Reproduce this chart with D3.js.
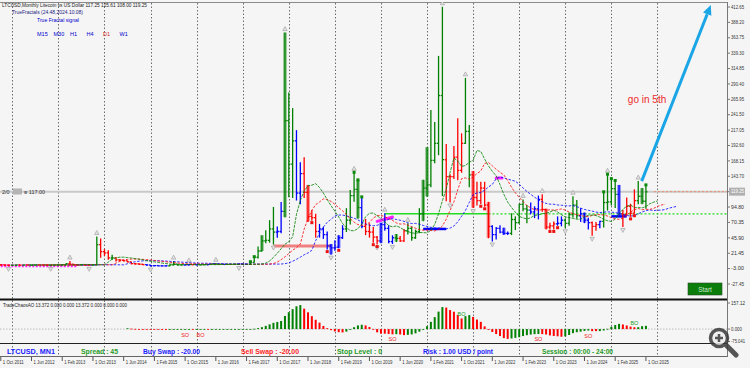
<!DOCTYPE html>
<html lang="en">
<head>
<meta charset="utf-8">
<title>LTCUSD, Monthly</title>
<script src="https://cdn.jsdelivr.net/npm/d3@7"></script>
<style>
  body { margin: 0; background: #f5f5f5; }
  svg { display: block; font-family: "Liberation Sans", Arial, sans-serif; }
</style>
</head>
<body>
<script>

// Monthly LTCUSD bars, Oct 2011 .. Oct 2025 (one value per month)
var open = [
  3.2, 3.0, 2.6,
  2.5, 2.6, 2.7, 2.6, 2.8, 2.7, 2.8, 2.9, 2.8, 2.7, 2.6, 2.7,
  2.8, 3.0, 3.2, 4.8, 4.0, 3.1, 2.8, 3.0, 2.6, 2.4, 2.9, 35,
  24, 22, 14, 14, 11, 10.5, 9.5, 7.8, 5, 4.6, 3.9, 3.4,
  2.7, 1.6, 1.8, 1.5, 1.4, 1.5, 2.8, 4.2, 2.9, 2.9, 3.1, 3.3,
  3.5, 3.1, 3.1, 3.2, 3.7, 4.6, 4.2, 4.0, 3.7, 3.8, 3.8, 3.9,
  4.3, 4.0, 3.8, 7.0, 15, 25, 41, 42, 60, 55, 56, 88,
  232, 163, 200, 117, 148, 118, 80, 78, 56, 60, 51, 33,
  30, 31, 46, 60, 74, 113, 123, 94, 64, 56, 55, 47,
  41, 67, 61, 40, 46, 45, 41, 57, 61, 46, 56, 84,
  125, 130, 169, 196, 272, 170, 143, 143, 174, 153, 196, 215,
  146, 110, 105, 125, 98, 64, 51, 61, 55, 53, 53, 75,
  70, 99, 92, 90, 87, 92, 107, 91, 63, 65, 68, 69,
  74, 69, 83, 98, 81, 84, 74, 70, 64, 67, 72, 102,
  103, 124, 115, 84, 83, 96, 85, 105, 112, 104
];
var high = [
  3.8, 3.2, 2.9,
  2.8, 2.9, 2.9, 3.0, 3.0, 3.0, 3.1, 3.1, 3.0, 2.9, 2.9, 2.9,
  3.2, 3.4, 5.5, 9.0, 4.2, 3.3, 3.3, 3.1, 2.8, 3.0, 48, 45,
  28, 26, 19, 15, 12, 11, 9.6, 8, 6, 5, 4.4, 3.8,
  2.8, 2.1, 2.0, 1.6, 1.8, 3.0, 8.9, 4.3, 3.1, 3.2, 4.5, 3.8,
  3.8, 3.6, 3.4, 3.9, 4.8, 5.5, 4.4, 4.0, 3.9, 3.9, 4.0, 4.6,
  4.6, 4.1, 8.0, 16, 32, 50, 58, 74, 95, 64, 103, 372,
  277, 252, 217, 166, 174, 130, 90, 84, 68, 63, 56, 36,
  42, 50, 66, 93, 122, 150, 138, 111, 76, 69, 63, 49,
  70, 85, 66, 50, 52, 49, 60, 69, 64, 59, 93, 138,
  190, 249, 230, 335, 413, 195, 147, 192, 236, 212, 300, 225,
  152, 135, 135, 135, 103, 66, 63, 66, 62, 56, 85, 80,
  100, 107, 98, 102, 96, 113, 115, 92, 70, 72, 80, 80,
  77, 86, 112, 106, 93, 86, 78, 72, 71, 73, 119, 147,
  140, 137, 130, 90, 110, 100, 123, 136, 125, 130
];
var low = [
  2.4, 2.3, 2.2,
  2.3, 2.4, 2.5, 2.4, 2.6, 2.5, 2.6, 2.6, 2.6, 2.5, 2.4, 2.5,
  2.6, 2.8, 3.0, 2.5, 2.8, 2.5, 2.6, 2.4, 2.2, 2.3, 2.8, 15,
  18, 12, 12, 9, 9, 9, 7.5, 4.5, 3.9, 3.6, 3.2, 2.5,
  1.1, 1.5, 1.4, 1.3, 1.3, 1.4, 2.7, 2.6, 2.6, 2.8, 2.8, 3.2,
  2.9, 2.9, 3.0, 3.1, 3.6, 3.7, 3.6, 3.6, 3.6, 3.7, 3.7, 3.5,
  3.6, 3.7, 3.6, 7.0, 14, 25, 38, 39, 36, 47, 54, 79,
  111, 110, 106, 100, 110, 72, 74, 47, 47, 45, 28, 20,
  26, 30, 45, 56, 68, 104, 77, 62, 51, 47, 39, 36,
  38, 58, 38, 37, 40, 40, 40, 52, 42, 45, 54, 73,
  112, 127, 165, 178, 113, 105, 103, 140, 138, 150, 196, 127,
  94, 98, 100, 96, 46, 41, 44, 54, 51, 51, 51, 59,
  69, 89, 70, 84, 78, 76, 88, 60, 60, 60, 66, 65,
  62, 66, 79, 77, 72, 70, 60, 50, 58, 62, 63, 90,
  98, 94, 82, 64, 82, 80, 85, 100, 100, 93
];
var close = [
  3.0, 2.6, 2.5,
  2.6, 2.7, 2.6, 2.8, 2.7, 2.8, 2.9, 2.8, 2.7, 2.6, 2.7, 2.8,
  3.0, 3.2, 4.8, 4.0, 3.1, 2.8, 3.0, 2.6, 2.4, 2.9, 35, 24,
  22, 14, 14, 11, 10.5, 9.5, 7.8, 5, 4.6, 3.9, 3.4, 2.7,
  1.6, 1.8, 1.5, 1.4, 1.5, 2.8, 4.2, 2.9, 2.9, 3.1, 3.3, 3.5,
  3.1, 3.1, 3.2, 3.7, 4.6, 4.2, 4.0, 3.7, 3.8, 3.8, 3.9, 4.3,
  4.0, 3.8, 7.0, 15, 25, 41, 42, 60, 55, 56, 88, 232,
  163, 200, 117, 148, 118, 80, 78, 56, 60, 51, 33, 30,
  31, 46, 60, 74, 113, 123, 94, 64, 56, 55, 47, 41,
  67, 61, 40, 46, 45, 41, 57, 61, 46, 56, 84, 125,
  130, 169, 196, 272, 170, 143, 143, 174, 153, 196, 215, 146,
  110, 105, 125, 98, 64, 51, 61, 55, 53, 53, 75, 70,
  99, 92, 90, 87, 92, 107, 91, 63, 65, 68, 69, 74,
  69, 83, 98, 81, 84, 74, 70, 64, 67, 72, 102, 103,
  124, 115, 84, 83, 96, 85, 105, 112, 104, 119
];

// x axis labels, one every 8 bars starting at the first bar
var xLabels = ["1 Oct 2011", "1 Jun 2012", "1 Feb 2013", "1 Oct 2013", "1 Jun 2014", "1 Feb 2015",
  "1 Oct 2015", "1 Jun 2016", "1 Feb 2017", "1 Oct 2017", "1 Jun 2018", "1 Feb 2019", "1 Oct 2019",
  "1 Jun 2020", "1 Feb 2021", "1 Oct 2021", "1 Jun 2022", "1 Feb 2023", "1 Oct 2023", "1 Jun 2024",
  "1 Feb 2025", "1 Oct 2025"];

// price scale labels
var yTicks = [-27.45, -3.00, 21.45, 45.90, 70.35, 94.80, 119.25, 143.70, 168.15, 192.60, 217.05,
  241.50, 265.95, 290.40, 314.85, 339.30, 363.75, 388.20, 412.65];
var lastPrice = 119.25;
var aoTicks = [157.12, 0, -75.041];

// bars painted as wide "squat" bars
var squatBars = [68, 74, 80, 86, 88, 93, 99, 103, 110, 111, 123, 127, 131, 142, 152, 161, 167];
// True Fractal signal dots
var greenDots = [65, 66, 92, 93, 94, 157, 158, 159, 160, 168];
var redDots = [81, 85, 88, 97, 98, 125, 126, 143, 144, 145, 164, 165];
// horizontal levels: [fromBar, toBar, price]
var supportLevel = [100, 127, 84];
var oldLevel = [71, 86, 33];
var baseLevel = [0, 20, 1.5];
var blueZones = [[110, 116, 60], [159, 163, 80]];
var pinkMarks = [[98, 102, 72, 79], [129, 130.5, 141, 141]];
// AO signal texts: [bar, text, side]
var aoSignals = [[48, "SO", "dn"], [52, "BO", "dn"], [102, "SO", "dn"], [120, "BO", "up"],
  [140, "SO", "dn"], [153, "SO", "dn"], [165, "BO", "up"]];
// hand drawn arrow, [bar, price]
var arrowFrom = [166.9, 136], arrowTo = [184.9, 416];

var W = 750, H = 368, axisX = 727;
var GREEN = "#008000", RED = "#ff0000", BLUE = "#0000ff";
var n = close.length;

var svg = d3.select("body").append("svg").attr("width", W).attr("height", H);
svg.append("rect").attr("width", W).attr("height", H).attr("fill", "#f5f5f5");

var x = d3.scaleLinear().domain([0, n - 1]).range([0.8, 0.8 + 3.84 * (n - 1)]);
var y = d3.scaleLinear().domain([-27.45, 412.65]).range([284, 7]);
var yAO = d3.scaleLinear().domain([-75.041, 157.12]).range([342, 302]);

var defs = svg.append("defs");
defs.append("clipPath").attr("id", "mainClip").append("rect")
    .attr("x", 0).attr("y", 2).attr("width", axisX).attr("height", 297);
defs.append("clipPath").attr("id", "aoClip").append("rect")
    .attr("x", 0).attr("y", 300).attr("width", axisX).attr("height", 43);

// ---- indicators computed from the bars
var median = high.map(function(h, i) { return (h + low[i]) / 2; });
function sma(src, p) {
  return src.map(function(v, i) {
    if (i < p - 1) return null;
    var s = 0;
    for (var k = i - p + 1; k <= i; k++) { if (src[k] == null) return null; s += src[k]; }
    return s / p;
  });
}
function smma(src, p) {
  var out = [];
  src.forEach(function(v, i) {
    if (i < p - 1) out.push(null);
    else if (i === p - 1) out.push(d3.mean(src.slice(0, p)));
    else out.push((out[i - 1] * (p - 1) + v) / p);
  });
  return out;
}
var sma5 = sma(median, 5), sma34 = sma(median, 34);
var ao = median.map(function(m, i) { return sma34[i] == null ? null : sma5[i] - sma34[i]; });
var aoAvg = sma(ao, 5);
var ac = ao.map(function(v, i) { return aoAvg[i] == null ? null : v - aoAvg[i]; });

function barColor(i) {
  if (ac[i] == null || ac[i - 1] == null) return close[i] >= open[i] ? GREEN : RED;
  var upAO = ao[i] > ao[i - 1], upAC = ac[i] > ac[i - 1];
  if (upAO && upAC) return GREEN;
  if (!upAO && !upAC) return RED;
  return BLUE;
}

// ---- frame and grid
svg.append("line").attr("x1", 0).attr("x2", axisX).attr("y1", 2.5).attr("y2", 2.5)
   .attr("stroke", "#8a8a8a");

var grid = svg.append("g");
for (var g = 3; g <= n + 3; g += 12) {
  grid.append("line").attr("x1", Math.round(x(g)) + 0.5).attr("x2", Math.round(x(g)) + 0.5)
      .attr("y1", 3).attr("y2", 357)
      .attr("stroke", "#333").attr("stroke-dasharray", "1.5,2").attr("opacity", 0.7);
}

var main = svg.append("g").attr("clip-path", "url(#mainClip)");

// current price line
main.append("line").attr("x1", 0).attr("x2", axisX).attr("y1", y(lastPrice)).attr("y2", y(lastPrice))
    .attr("stroke", "#c9c9c9").attr("stroke-width", 2);
main.append("line").attr("x1", x(n - 1) + 8).attr("x2", axisX).attr("y1", y(lastPrice)).attr("y2", y(lastPrice))
    .attr("stroke", "#f08a6a").attr("stroke-dasharray", "2,2");

// levels
main.append("line").attr("x1", x(supportLevel[0])).attr("x2", x(supportLevel[1]))
    .attr("y1", y(supportLevel[2])).attr("y2", y(supportLevel[2]))
    .attr("stroke", "#22dd22").attr("stroke-width", 1.5);
main.append("line").attr("x1", x(supportLevel[1])).attr("x2", axisX)
    .attr("y1", y(supportLevel[2])).attr("y2", y(supportLevel[2]))
    .attr("stroke", "#22dd22").attr("stroke-width", 1.2).attr("stroke-dasharray", "2,2");
main.append("line").attr("x1", x(oldLevel[0])).attr("x2", x(oldLevel[1]))
    .attr("y1", y(oldLevel[2])).attr("y2", y(oldLevel[2]))
    .attr("stroke", "#f08080").attr("stroke-width", 3);
main.append("line").attr("x1", x(baseLevel[0])).attr("x2", x(baseLevel[1]))
    .attr("y1", y(baseLevel[2])).attr("y2", y(baseLevel[2]))
    .attr("stroke", "#ff22ff").attr("stroke-width", 3).attr("stroke-dasharray", "2,1.5");
blueZones.forEach(function(z) {
  main.append("line").attr("x1", x(z[0])).attr("x2", x(z[1])).attr("y1", y(z[2])).attr("y2", y(z[2]))
      .attr("stroke", BLUE).attr("stroke-width", 2.5);
});
pinkMarks.forEach(function(z) {
  main.append("line").attr("x1", x(z[0])).attr("x2", x(z[1])).attr("y1", y(z[2])).attr("y2", y(z[3]))
      .attr("stroke", "#ff22ff").attr("stroke-width", 3).attr("stroke-linecap", "round");
});

// squat bars (wide and pale)
main.selectAll("rect.squat").data(squatBars).enter().append("rect")
    .attr("x", function(i) { return x(i) - 1.8; }).attr("width", 3.6)
    .attr("y", function(i) { return y(high[i]); })
    .attr("height", function(i) { return Math.max(1, y(low[i]) - y(high[i])); })
    .attr("fill", function(i) { return barColor(i); }).attr("opacity", 0.45);

// OHLC bars
var bars = main.selectAll("g.bar").data(d3.range(n)).enter().append("g")
    .attr("stroke", barColor).attr("stroke-width", 1.3);
bars.append("line").attr("x1", function(i) { return x(i); }).attr("x2", function(i) { return x(i); })
    .attr("y1", function(i) { return y(high[i]); }).attr("y2", function(i) { return y(low[i]) + 0.5; });
bars.append("line").attr("x1", function(i) { return x(i) - 1.6; }).attr("x2", function(i) { return x(i); })
    .attr("y1", function(i) { return y(open[i]); }).attr("y2", function(i) { return y(open[i]); });
bars.append("line").attr("x1", function(i) { return x(i); }).attr("x2", function(i) { return x(i) + 1.6; })
    .attr("y1", function(i) { return y(close[i]); }).attr("y2", function(i) { return y(close[i]); });

// Alligator lines (jaw, teeth, lips) with their forward shift
var gator = [[smma(median, 13), 8, BLUE, "2.5,1.5"], [smma(median, 8), 5, RED, "2.5,1.5"], [smma(median, 5), 3, GREEN, "3,1"]];
gator.forEach(function(gl) {
  var pts = gl[0].map(function(v, i) { return [i + gl[1], v]; }).filter(function(p) { return p[1] != null; });
  main.append("path").attr("d", d3.line().x(function(p) { return x(p[0]); }).y(function(p) { return y(p[1]); })(pts))
      .attr("fill", "none").attr("stroke", gl[2]).attr("stroke-width", 0.8)
      .attr("stroke-dasharray", gl[3]);
});

// Bill Williams fractals
var upF = [], dnF = [];
for (var i = 2; i < n - 2; i++) {
  if (high[i] > high[i - 1] && high[i] > high[i - 2] && high[i] > high[i + 1] && high[i] > high[i + 2]) upF.push(i);
  if (low[i] < low[i - 1] && low[i] < low[i - 2] && low[i] < low[i + 1] && low[i] < low[i + 2]) dnF.push(i);
}
main.selectAll("path.fu").data(upF).enter().append("path")
    .attr("d", function(i) { var cx = x(i), cy = y(high[i]) - 4; return "M" + (cx - 2.2) + "," + (cy + 2) + "L" + cx + "," + (cy - 2) + "L" + (cx + 2.2) + "," + (cy + 2) + "Z"; })
    .attr("fill", "#e2e2e2").attr("stroke", "#9a9a9a").attr("stroke-width", 0.6);
main.selectAll("path.fd").data(dnF).enter().append("path")
    .attr("d", function(i) { var cx = x(i), cy = y(low[i]) + 4; return "M" + (cx - 2.2) + "," + (cy - 2) + "L" + cx + "," + (cy + 2) + "L" + (cx + 2.2) + "," + (cy - 2) + "Z"; })
    .attr("fill", "#e2e2e2").attr("stroke", "#9a9a9a").attr("stroke-width", 0.6);

// True Fractal signal dots
main.selectAll("rect.gd").data(greenDots).enter().append("rect")
    .attr("x", function(i) { return x(i) - 1.5; }).attr("y", function(i) { return y(high[i]) - 1.5; })
    .attr("width", 3).attr("height", 3).attr("fill", "#0a8a0a");
main.selectAll("rect.rd").data(redDots).enter().append("rect")
    .attr("x", function(i) { return x(i) - 1.5; }).attr("y", function(i) { return y(low[i]) + 1; })
    .attr("width", 3).attr("height", 3).attr("fill", "#ee1111");

// note and arrow
svg.append("text").attr("x", x(163.3)).attr("y", y(260)).attr("font-size", 10)
   .attr("fill", "#ee2a2a").text("go in 5th");
var ax1 = x(arrowFrom[0]), ay1 = y(arrowFrom[1]), ax2 = x(arrowTo[0]), ay2 = y(arrowTo[1]);
var ang = Math.atan2(ay2 - ay1, ax2 - ax1);
var bx = ax2 - 10 * Math.cos(ang), by = ay2 - 10 * Math.sin(ang);
svg.append("line").attr("x1", ax1).attr("y1", ay1).attr("x2", bx).attr("y2", by)
   .attr("stroke", "#1aa6e6").attr("stroke-width", 3);
svg.append("path").attr("fill", "#1aa6e6")
   .attr("d", "M" + ax2 + "," + ay2 +
     "L" + (bx + 4.5 * Math.sin(ang)) + "," + (by - 4.5 * Math.cos(ang)) +
     "L" + (bx - 4.5 * Math.sin(ang)) + "," + (by + 4.5 * Math.cos(ang)) + "Z");

// header texts
var hdr = svg.append("g").attr("fill", "#222");
hdr.append("text").attr("x", 2).attr("y", 7).attr("font-size", 5.5)
   .attr("textLength", 145).attr("lengthAdjust", "spacingAndGlyphs")
   .text("LTCUSD,Monthly  Litecoin vs US Dollar  117.25 125.61 108.00 119.25");
hdr.append("text").attr("x", 12).attr("y", 13.5).attr("font-size", 5.5).attr("fill", "#1a1a80")
   .attr("textLength", 71).attr("lengthAdjust", "spacingAndGlyphs")
   .text("TrueFractals (24.48,2024.10.08)");
hdr.append("text").attr("x", 37).attr("y", 22).attr("font-size", 6).attr("fill", "#0000cc")
   .attr("textLength", 42).attr("lengthAdjust", "spacingAndGlyphs").text("True Fractal signal");
var tfs = ["M15", "M30", "H1", "H4", "D1", "W1"];
tfs.forEach(function(t, k) {
  hdr.append("text").attr("x", 37 + k * 16.5).attr("y", 36).attr("font-size", 5.5)
     .attr("fill", t === "D1" ? "#cc2222" : "#0000cc").text(t);
});
svg.append("text").attr("x", 2).attr("y", 194).attr("font-size", 5.5).attr("fill", "#333").text("2/0");
svg.append("rect").attr("x", 13).attr("y", 188.5).attr("width", 9).attr("height", 6).attr("fill", "#b4b4b4");
svg.append("text").attr("x", 24).attr("y", 194).attr("font-size", 5.5).attr("fill", "#333").text("\u2261 117.00");

// start button
svg.append("rect").attr("x", 688).attr("y", 283).attr("width", 34).attr("height", 12)
   .attr("fill", "#0a7d0a").attr("stroke", "#2a4a2a").attr("stroke-width", 0.6);
svg.append("text").attr("x", 705).attr("y", 291.5).attr("text-anchor", "middle")
   .attr("font-size", 6.5).attr("fill", "#cfe9cf").text("Start");

// ---- AO panel
svg.append("line").attr("x1", 0).attr("x2", axisX).attr("y1", 299.5).attr("y2", 299.5)
   .attr("stroke", "#111").attr("stroke-width", 2);
var aoG = svg.append("g").attr("clip-path", "url(#aoClip)");
aoG.append("line").attr("x1", 0).attr("x2", axisX).attr("y1", yAO(0)).attr("y2", yAO(0))
   .attr("stroke", "#bbb").attr("stroke-dasharray", "1.5,1.5");
var aoIdx = d3.range(n).filter(function(i) { return ao[i] != null; });
aoG.selectAll("rect.ao").data(aoIdx).enter().append("rect")
   .attr("x", function(i) { return x(i) - 1; }).attr("width", 2)
   .attr("y", function(i) { return Math.min(yAO(0), yAO(ao[i])); })
   .attr("height", function(i) { return Math.max(0.8, Math.abs(yAO(ao[i]) - yAO(0))); })
   .attr("fill", function(i) { return (i > 0 && ao[i - 1] != null && ao[i] < ao[i - 1]) ? RED : GREEN; });
aoSignals.forEach(function(s) {
  var i = s[0], v = ao[i] || 0;
  var ty = s[2] === "up" ? Math.min(yAO(0), yAO(v)) - 2 : Math.min(342.5, Math.max(yAO(0), yAO(v)) + 7);
  aoG.append("text").attr("x", x(i)).attr("y", ty).attr("text-anchor", "middle")
     .attr("font-size", 5.5).attr("fill", s[2] === "up" ? "#1a9a1a" : "#ee2222").text(s[1]);
});
svg.append("text").attr("x", 3).attr("y", 306.5).attr("font-size", 5).attr("fill", "#222")
   .attr("textLength", 124).attr("lengthAdjust", "spacingAndGlyphs")
   .text("TradeChaosAO 13.372 0.000 0.000 13.372 0.000 0.000 0.000");

// ---- info bar
svg.append("line").attr("x1", 0).attr("x2", axisX).attr("y1", 343.5).attr("y2", 343.5).attr("stroke", "#222");
svg.append("line").attr("x1", 0).attr("x2", axisX).attr("y1", 356.5).attr("y2", 356.5).attr("stroke", "#666");
var info = [
  ["LTCUSD, MN1", 7, 48, "#1c1cff"], ["Spread :  45", 81, 37, "#1f9a1f"],
  ["Buy Swap :  -20.00", 143, 57, "#1c1cff"], ["Sell Swap :  -20.00", 241, 58, "#ff1f1f"],
  ["Stop Level :  0", 337, 45, "#1f9a1f"], ["Risk :  1.00 USD / point", 423, 70, "#1c1cff"],
  ["Session :  00:00 - 24:00", 542, 71, "#1f9a1f"]
];
info.forEach(function(t) {
  svg.append("text").attr("x", t[1]).attr("y", 353.5).attr("font-size", 7).attr("font-weight", "bold")
     .attr("fill", t[3]).attr("textLength", t[2]).attr("lengthAdjust", "spacingAndGlyphs").text(t[0]);
});

// ---- axes
svg.append("line").attr("x1", axisX + 0.5).attr("x2", axisX + 0.5).attr("y1", 2).attr("y2", 357)
   .attr("stroke", "#777");
var yAx = svg.append("g").attr("font-size", 4.8).attr("fill", "#333");
yTicks.forEach(function(v) {
  yAx.append("line").attr("x1", axisX).attr("x2", axisX + 3).attr("y1", y(v)).attr("y2", y(v)).attr("stroke", "#777");
  yAx.append("text").attr("x", axisX + 4).attr("y", y(v) + 1.7)
     .attr("textLength", 13).attr("lengthAdjust", "spacingAndGlyphs").text(v.toFixed(2));
});
yAx.append("rect").attr("x", axisX + 2).attr("y", y(lastPrice) - 4).attr("width", 16).attr("height", 8).attr("fill", "#b0b0b0");
yAx.append("text").attr("x", axisX + 4).attr("y", y(lastPrice) + 1.7).attr("fill", "#fff")
   .attr("textLength", 13).attr("lengthAdjust", "spacingAndGlyphs").text(lastPrice.toFixed(2));
aoTicks.forEach(function(v) {
  var ty = v === aoTicks[0] ? 303 : (v === aoTicks[2] ? 341.5 : yAO(v));
  yAx.append("line").attr("x1", axisX).attr("x2", axisX + 3).attr("y1", ty).attr("y2", ty).attr("stroke", "#777");
  yAx.append("text").attr("x", axisX + 4).attr("y", ty + 1.7)
     .attr("textLength", v === 0 ? 11 : 14).attr("lengthAdjust", "spacingAndGlyphs")
     .text(v === 0 ? "0.000" : String(v));
});

var xAx = svg.append("g").attr("font-size", 4.8).attr("fill", "#333");
xLabels.forEach(function(t, k) {
  var xi = x(k * 8);
  xAx.append("line").attr("x1", xi).attr("x2", xi).attr("y1", 357).attr("y2", 361).attr("stroke", "#555");
  xAx.append("text").attr("x", xi + 2).attr("y", 364).attr("textLength", 21)
     .attr("lengthAdjust", "spacingAndGlyphs").text(t);
});

// zoom glass
var zg = svg.append("g").attr("opacity", 0.85);
zg.append("line").attr("x1", 726).attr("y1", 345).attr("x2", 736).attr("y2", 355)
  .attr("stroke", "#3a3a3a").attr("stroke-width", 5).attr("stroke-linecap", "round");
zg.append("circle").attr("cx", 719).attr("cy", 338).attr("r", 8.5)
  .attr("fill", "#f0f0f0").attr("stroke", "#3a3a3a").attr("stroke-width", 3.5);
zg.append("path").attr("d", "M715,338H723M719,334V342").attr("stroke", "#3a3a3a").attr("stroke-width", 2.5);

</script>
</body>
</html>
